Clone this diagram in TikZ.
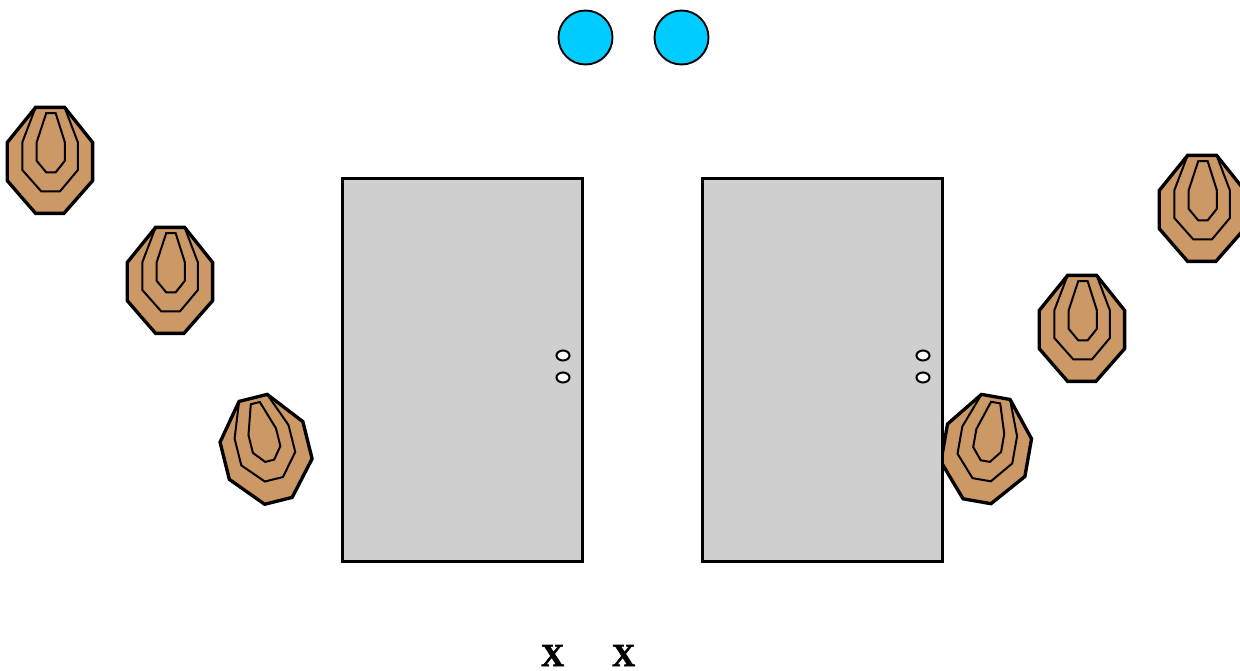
\documentclass[tikz,border=0pt]{standalone}
\usepackage{fontspec}
\setmainfont{Liberation Serif}
\newfontfamily\xfont{Liberation Serif}[BoldFont={Liberation Serif/B},BoldFeatures={FakeBold=2.2}]
\tikzset{
  x=0.75pt,y=-0.75pt,
  doorbox/.style={draw=black,line width=1.9pt,fill=doorgrey},
  knob/.style={draw=black,line width=1.5pt,fill=white},
  lamp/.style={circle,draw=black,line width=1.4pt,fill=lampblue,minimum size=40.5pt,inner sep=0pt},
  xlabel/.style={font=\xfont\bfseries\fontsize{24pt}{25pt}\selectfont,inner sep=0pt,anchor=base},
  target/.pic={
    \draw[fill=targetbrown,line width=2.5pt,line join=miter]
      (-15,-53.3)--(14,-53.3)--(42,-18.3)--(42,20)--(13.3,52.7)--(-15,52.7)--(-43.3,20)--(-43.3,-18.3)--cycle;
    \draw[line width=1.5pt,line join=miter]
      (-15,-53.3)--(-28.3,-18.3)--(-28.3,9.3)--(-9.3,30.7)--(9.3,30.7)--(27.3,9.3)--(27.3,-18.3)--(14,-53.3);
    \draw[line width=1.5pt,line join=miter]
      (-4.3,-47.7)--(5,-47.7)--(14.3,-18.3)--(14.3,0)--(5,11.7)--(-4.3,11.7)--(-14,0)--(-14,-18.3)--cycle;
  }
}
\definecolor{doorgrey}{HTML}{CFCFCF}
\definecolor{lampblue}{HTML}{00CCFF}
\definecolor{targetbrown}{HTML}{CC9966}
\begin{document}
\begin{tikzpicture}
\useasboundingbox (0,0) rectangle (1240,671);
\node[lamp] (lampa) at (585.5,37.5) {};
\node[lamp] (lampb) at (681.5,37.5) {};
\pic[rotate=-10] at (987,449.5) {target};
\draw[doorbox] (342.5,178.5) rectangle (582.5,561.5);
\draw[doorbox] (702.5,178.5) rectangle (942.5,561.5);
\draw[knob] (563,355.5) ellipse [x radius=6.5,y radius=5];
\draw[knob] (563,377.5) ellipse [x radius=6.5,y radius=5];
\draw[knob] (923,355.5) ellipse [x radius=6.5,y radius=5];
\draw[knob] (923,377.5) ellipse [x radius=6.5,y radius=5];
\pic at (50.6,160.7) {target};
\pic at (170.6,280.7) {target};
\pic at (1202.6,208.7) {target};
\pic at (1082.6,328.7) {target};
\pic[rotate=14] at (266.5,449.5) {target};
\node[xlabel] (marka) at (552.6,666) {X};
\node[xlabel] (markb) at (623.6,666) {X};
\end{tikzpicture}
\end{document}
